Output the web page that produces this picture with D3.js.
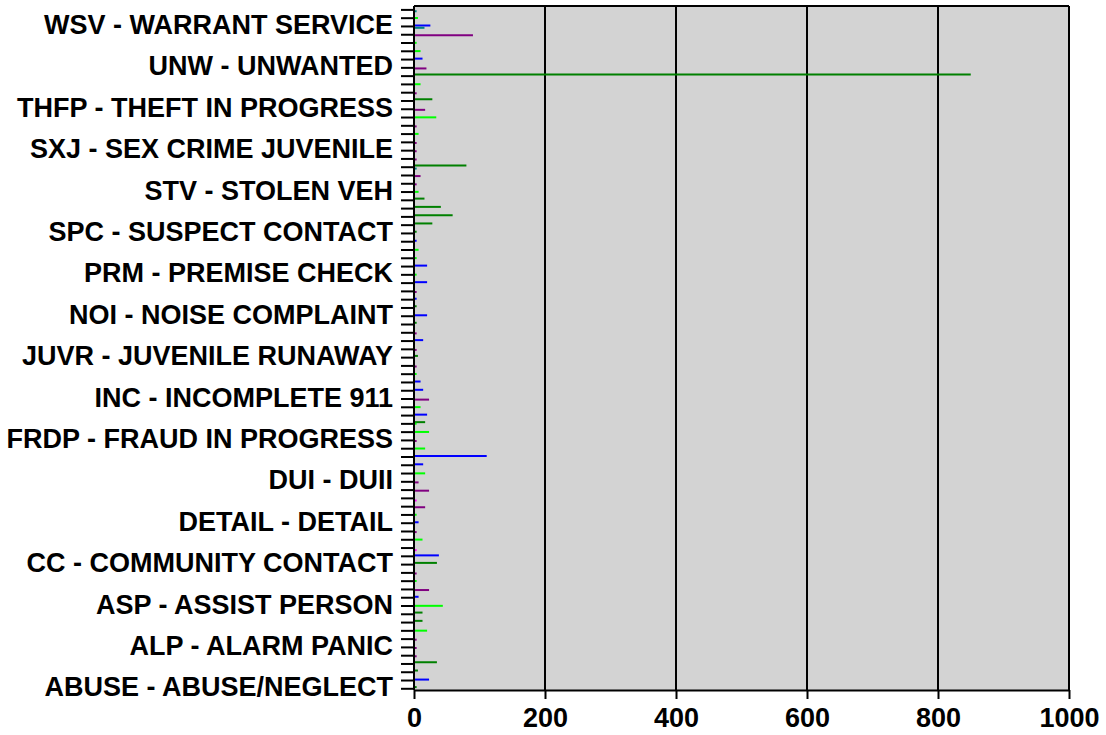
<!DOCTYPE html>
<html>
<head>
<meta charset="utf-8">
<script src="https://cdn.jsdelivr.net/npm/d3@7"></script>
<style>
body { margin: 0; background: #fff; }
text { font-family: "Liberation Sans", Arial, sans-serif; font-weight: bold; fill: #000; }
</style>
</head>
<body>
<div id="chart"></div>
<script>
// call types, bottom of the chart first (only every 5th one gets a label)
var categories = [
  "ABUSE - ABUSE/NEGLECT", "ACC - ACCIDENT", "ACCINJ - ACCIDENT INJURY", "ACCUNK - ACCIDENT UNKNOWN", "ALB - ALARM BURGLARY",
  "ALP - ALARM PANIC", "ALR - ALARM ROBBERY", "ANIMAL - ANIMAL PROBLEM", "ARSON - ARSON", "ASLT - ASSAULT",
  "ASP - ASSIST PERSON", "ASSTPD - ASSIST POLICE", "ATL - ATTEMPT TO LOCATE", "BURG - BURGLARY", "BURGP - BURGLARY IN PROGRESS",
  "CC - COMMUNITY CONTACT", "CIVIL - CIVIL PROBLEM", "CRIM - CRIMINAL MISCHIEF", "CUST - CUSTODY", "DEAD - DEATH INVESTIGATION",
  "DETAIL - DETAIL", "DIST - DISTURBANCE", "DOM - DOMESTIC DISTURBANCE", "DRUG - DRUG ACTIVITY", "DTOX - DETOX",
  "DUI - DUII", "EXPL - EXPLOSION", "FIGHT - FIGHT", "FLAG - FLAGGED DOWN", "FOUND - FOUND PROPERTY",
  "FRDP - FRAUD IN PROGRESS", "GANG - GANG ACTIVITY", "HAZ - HAZARD", "HIT - HIT AND RUN", "ILL - ILLEGAL CAMPING",
  "INC - INCOMPLETE 911", "INDEC - INDECENT EXPOSURE", "INFO - INFORMATION", "INTOX - INTOXICATED PERSON", "JUV - JUVENILE PROBLEM",
  "JUVR - JUVENILE RUNAWAY", "KIDN - KIDNAPPING", "LIT - LITTERING", "MENT - MENTAL HEALTH", "MISS - MISSING PERSON",
  "NOI - NOISE COMPLAINT", "OBS - OBSTRUCTION", "PARK - PARKING", "PED - PEDESTRIAN CHECK", "PRI - PROWLER INSIDE",
  "PRM - PREMISE CHECK", "PROWL - PROWLER", "RECK - RECKLESS DRIVER", "ROB - ROBBERY", "SHOTS - SHOTS FIRED",
  "SPC - SUSPECT CONTACT", "SPP - SUSPICIOUS PERSON", "SPV - SUSPICIOUS VEHICLE", "STAB - STABBING", "STP - STOLEN PROPERTY",
  "STV - STOLEN VEH", "SUIC - SUICIDE THREAT", "SUSP - SUSPICIOUS", "SXC - SEX CRIME", "SXH - SEX HARASSMENT",
  "SXJ - SEX CRIME JUVENILE", "TAPT - TRAFFIC ACCIDENT", "THEFT - THEFT", "THF - THEFT REPORT", "THFC - THEFT FROM CAR",
  "THFP - THEFT IN PROGRESS", "THREAT - THREATS", "TRAF - TRAFFIC STOP", "TRES - TRESPASS", "UNK - UNKNOWN PROBLEM",
  "UNW - UNWANTED", "VAND - VANDALISM", "VEH - VEHICLE STOP", "WALK - WALK THROUGH", "WEAP - WEAPON",
  "WSV - WARRANT SERVICE", "WTH - WELFARE CHECK", "XCT - EXTRA CONTACT"
];

var seriesNames = ["Central", "East", "North", "South", "Traffic", "Other"];
var seriesColors = ["#008000", "#0000ff", "#00ff00", "#800080", "#008080", "#ff00ff"];

// counts per call type, same order as categories
var central = [
  4,0,6,35,0,0,0,0,13,13,   0,0,0,0,0,35,0,0,0,0,   0,0,0,0,0,0,0,0,0,0,
  0,0,17,0,0,0,0,0,0,0,     6,0,0,0,4,0,4,0,0,0,    0,0,0,0,0,4,28,59,41,16,
  0,0,0,80,0,0,0,0,0,0,     0,28,0,0,850,0,0,0,0,0, 0,0,0];
var east = [
  0,23,0,0,0,0,0,0,0,0,     0,7,0,0,0,0,38,0,0,0,   7,0,0,0,0,0,0,14,111,0,
  0,0,0,20,0,0,14,10,0,0,   0,0,14,0,0,20,0,4,0,20, 0,20,0,0,4,0,0,0,0,0,
  0,0,0,0,0,0,0,0,0,0,      0,0,0,0,0,0,13,0,0,0,   25,0,0];
var north = [
  0,0,0,0,0,0,0,20,0,0,     44,0,0,4,0,0,0,0,13,0,  0,4,0,0,0,0,17,0,0,17,
  0,23,4,0,10,0,0,0,4,0,    0,0,0,0,0,0,0,0,0,0,    4,0,4,7,0,0,0,0,0,0,
  7,0,0,0,0,0,0,7,0,34,     0,0,0,10,0,0,0,10,4,0,  0,6,0];
var south = [
  0,0,0,0,4,4,4,0,0,0,      0,0,23,0,4,0,0,0,0,4,   0,0,17,0,23,7,0,0,0,0,
  4,0,0,0,0,23,0,0,0,4,     0,4,0,4,0,0,0,0,4,0,    0,0,0,0,0,0,0,0,0,0,
  0,4,10,0,4,4,4,0,4,0,     17,0,4,0,0,19,0,0,0,90, 0,0,0];
var traffic = [
  0,0,0,0,0,0,0,0,0,0,      0,0,0,0,0,0,0,0,0,0,    0,0,0,0,0,0,0,0,0,0,
  0,0,0,0,0,0,0,0,0,0,      0,0,0,0,0,0,0,0,0,0,    0,0,0,0,0,0,0,0,0,0,
  0,0,0,4,0,0,0,0,0,0,      0,0,0,0,0,0,0,0,0,0,    16,0,4];
var other = [
  0,0,0,0,0,0,0,0,0,0,      0,0,0,0,0,0,0,4,0,0,    0,0,0,4,0,0,0,0,0,0,
  0,0,0,0,0,0,0,0,0,0,      0,0,0,0,0,0,0,0,0,0,    0,0,0,0,0,0,0,0,0,0,
  0,0,0,0,0,0,0,0,0,0,      0,0,0,0,0,0,0,0,0,0,    0,0,0];

var xTicks = [0, 200, 400, 600, 800, 1000];

var seriesValues = [central, east, north, south, traffic, other];

var margin = {top: 6, right: 37, bottom: 45, left: 414};
var W = 1106, H = 735;
var width = W - margin.left - margin.right;
var height = H - margin.top - margin.bottom;

var svg = d3.select("#chart").append("svg")
  .attr("width", W).attr("height", H)
  .append("g")
  .attr("transform", "translate(" + margin.left + "," + margin.top + ")");

var x = d3.scaleLinear().domain([0, 1000]).range([0, width]);
var y = d3.scalePoint().domain(categories).range([height - 1.7, 3.4]);
// small offset of each series inside one category row
var y1 = d3.scaleBand().domain(seriesNames).range([-1.6, 3.0]);

svg.append("rect")
  .attr("width", width).attr("height", height)
  .attr("fill", "#d3d3d3");

// vertical grid lines
svg.selectAll(".grid").data(xTicks.slice(1)).enter()
  .append("line")
  .attr("x1", function(d) { return x(d); }).attr("x2", function(d) { return x(d); })
  .attr("y1", 0).attr("y2", height)
  .attr("stroke", "#000").attr("stroke-width", 2);

svg.append("line")
  .attr("x1", 0).attr("x2", width).attr("y1", 0).attr("y2", 0)
  .attr("stroke", "#000").attr("stroke-width", 2);

// bars (thin lines)
seriesNames.forEach(function(s, k) {
  var rows = categories.map(function(c, i) { return {cat: c, value: seriesValues[k][i]}; })
    .filter(function(d) { return d.value > 0; });
  svg.selectAll(".bar-" + k).data(rows).enter()
    .append("line")
    .attr("x1", x(0))
    .attr("x2", function(d) { return x(d.value); })
    .attr("y1", function(d) { return y(d.cat) + y1(s) + y1.bandwidth() / 2; })
    .attr("y2", function(d) { return y(d.cat) + y1(s) + y1.bandwidth() / 2; })
    .attr("stroke", seriesColors[k])
    .attr("stroke-width", 2);
});

var yAxis = svg.append("g")
  .call(d3.axisLeft(y).tickSize(13).tickPadding(8).tickSizeOuter(0)
    .tickFormat(function(d, i) { return i % 5 === 0 ? d : ""; }));
yAxis.select(".domain").remove();
yAxis.selectAll("line").attr("stroke", "#000").attr("stroke-width", 2);
yAxis.selectAll("text").style("font-size", "27px").attr("dy", "0.28em");

svg.append("line")
  .attr("x1", 0).attr("x2", 0).attr("y1", 0).attr("y2", height)
  .attr("stroke", "#000").attr("stroke-width", 2);

var xAxis = svg.append("g")
  .attr("transform", "translate(0," + height + ")")
  .call(d3.axisBottom(x).tickValues(xTicks).tickSize(9).tickPadding(9).tickSizeOuter(0)
    .tickFormat(d3.format("d")));
xAxis.select(".domain").attr("stroke", "#000").attr("stroke-width", 2);
xAxis.selectAll("line").attr("stroke", "#000").attr("stroke-width", 2);
xAxis.selectAll("text").style("font-size", "27px");
</script>
</body>
</html>
